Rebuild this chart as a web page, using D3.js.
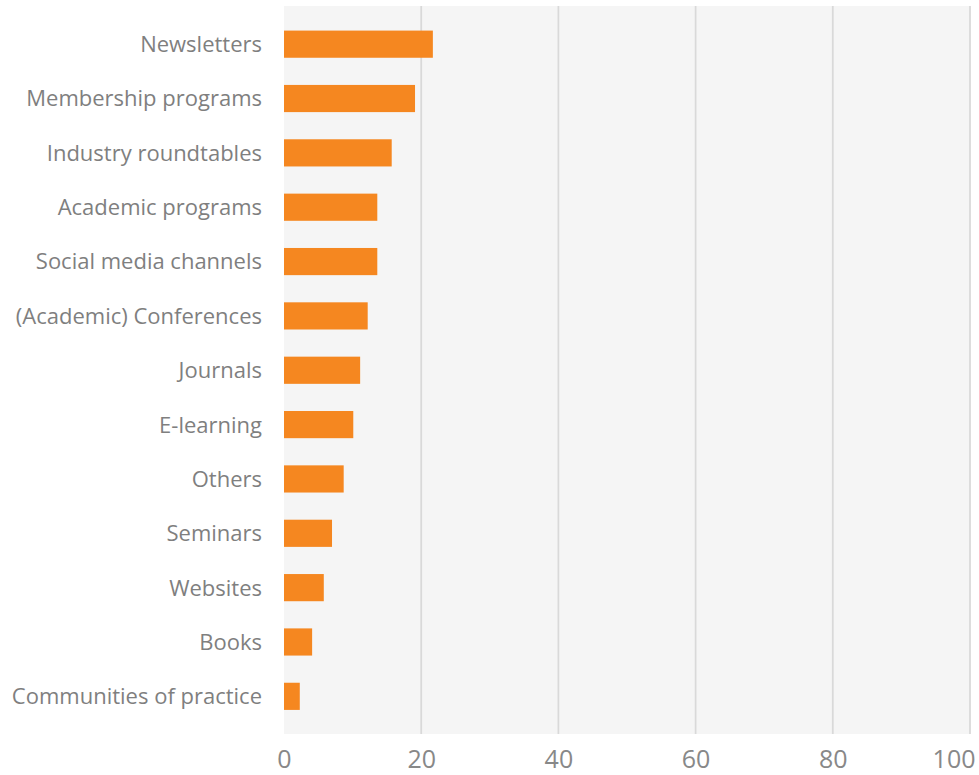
<!DOCTYPE html>
<html>
<head>
<meta charset="utf-8">
<script src="https://cdn.jsdelivr.net/npm/d3@7"></script>
<style>
  html, body { margin: 0; padding: 0; background: #ffffff; }
  svg { display: block; }
  text { font-family: "Open Sans", "Noto Sans", sans-serif; }
</style>
</head>
<body>
<svg id="chart" width="979" height="775"></svg>
<script>
// Channels, top to bottom
const categories = [
  "Newsletters",
  "Membership programs",
  "Industry roundtables",
  "Academic programs",
  "Social media channels",
  "(Academic) Conferences",
  "Journals",
  "E-learning",
  "Others",
  "Seminars",
  "Websites",
  "Books",
  "Communities of practice"
];
const values = [21.7, 19.1, 15.7, 13.6, 13.6, 12.2, 11.1, 10.1, 8.7, 7.0, 5.8, 4.1, 2.3];
const xTicks = [0, 20, 40, 60, 80, 100];

const svg = d3.select("#chart");

const plot = { left: 284, right: 970, top: 6, bottom: 734 };

const x = d3.scaleLinear().domain([0, 100]).range([plot.left, plot.right]);
const y = d3.scaleBand()
  .domain(categories)
  .range([17, 723.5])
  .paddingInner(0.5)
  .paddingOuter(0.25);

// plot background
svg.append("rect")
  .attr("x", plot.left)
  .attr("y", plot.top)
  .attr("width", plot.right - plot.left)
  .attr("height", plot.bottom - plot.top)
  .attr("fill", "#f5f5f5");

// vertical gridlines
svg.append("g")
  .selectAll("line")
  .data(xTicks.filter(d => d > 0))
  .join("line")
  .attr("x1", d => x(d))
  .attr("x2", d => x(d))
  .attr("y1", plot.top)
  .attr("y2", plot.bottom)
  .attr("stroke", "#d9d9d9")
  .attr("stroke-width", 1.75);

// bars
svg.append("g")
  .selectAll("rect")
  .data(categories.map((c, i) => ({ c, v: values[i] })))
  .join("rect")
  .attr("x", x(0))
  .attr("y", d => y(d.c))
  .attr("width", d => x(d.v) - x(0))
  .attr("height", y.bandwidth())
  .attr("fill", "#f58720");

// category axis labels
const yAxis = d3.axisLeft(y).tickSize(0).tickPadding(22);
const gy = svg.append("g")
  .attr("transform", `translate(${plot.left},0)`)
  .call(yAxis);
gy.select(".domain").remove();
gy.selectAll("text")
  .attr("fill", "#7f7f7f")
  .attr("dy", "0.36em")
  .style("font-size", "22px");

// value axis labels
const xAxis = d3.axisBottom(x).tickValues(xTicks).tickSize(0).tickPadding(16);
const gx = svg.append("g")
  .attr("transform", `translate(0,${plot.bottom})`)
  .call(xAxis);
gx.select(".domain").remove();
gx.selectAll("text")
  .attr("fill", "#888888")
  .style("font-size", "25px");
// keep the last label inside the right edge
gx.selectAll(".tick")
  .filter(d => d === xTicks[xTicks.length - 1])
  .select("text")
  .attr("text-anchor", "end")
  .attr("x", 975 - x(xTicks[xTicks.length - 1]));
</script>
</body>
</html>
